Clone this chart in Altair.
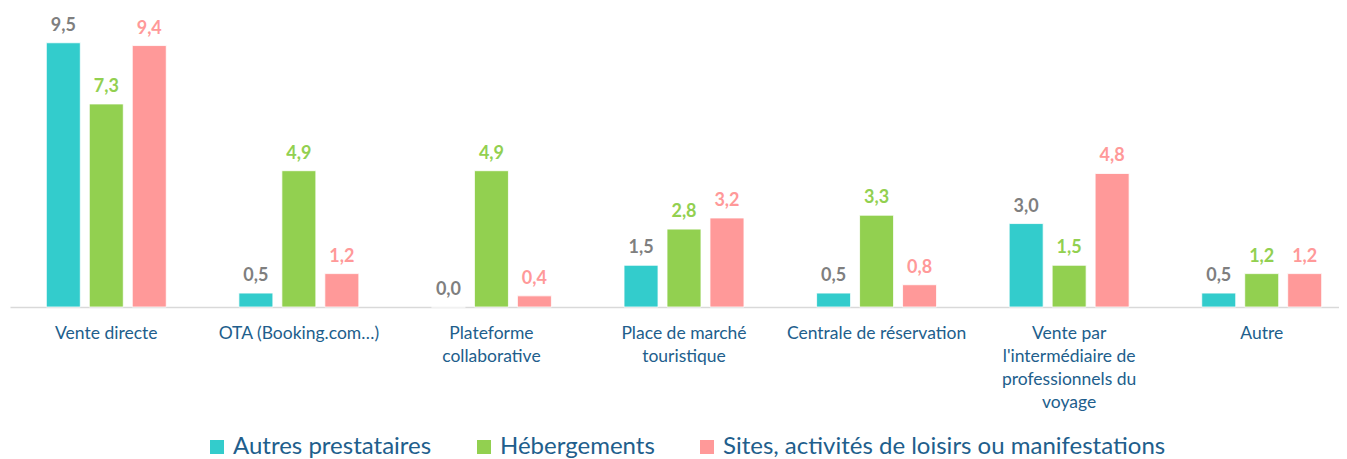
import altair as alt
import pandas as pd

categories = [
    "Vente directe",
    "OTA (Booking.com…)",
    "Plateforme|collaborative",
    "Place de marché|touristique",
    "Centrale de réservation",
    "Vente par|l'intermédiaire de|professionnels du|voyage",
    "Autre",
]
series = ["Autres prestataires", "Hébergements", "Sites, activités de loisirs ou manifestations"]
autres = [9.5, 0.5, 0.0, 1.5, 0.5, 3.0, 0.5]
hebergements = [7.3, 4.9, 4.9, 2.8, 3.3, 1.5, 1.2]
sites = [9.4, 1.2, 0.4, 3.2, 0.8, 4.8, 1.2]

bar_colors = ["#33CCCC", "#92D050", "#FF9999"]
label_colors = ["#7F7F7F", "#92D050", "#FF9999"]
text_blue = "#215E8C"

rows = []
for vals, s in zip([autres, hebergements, sites], series):
    for c, v in zip(categories, vals):
        rows.append({"cat": c, "serie": s, "val": v})
df = pd.DataFrame(rows)

x = alt.X(
    "cat:N",
    sort=categories,
    scale=alt.Scale(range=[2, 1350], paddingInner=0, paddingOuter=0),
    axis=alt.Axis(
        title=None,
        labelExpr="split(datum.label, '|')",
        labelAngle=0,
        labelFont="Lato",
        labelFontSize=17.5,
        labelColor=text_blue,
        labelLineHeight=23,
        labelPadding=17,
        ticks=False,
        domainColor="#D9D9D9",
        domainWidth=1.5,
        labelLimit=300,
    ),
)
xoff = alt.XOffset(
    "serie:N",
    sort=series,
    scale=alt.Scale(domain=series, paddingInner=0.209, paddingOuter=0.845),
)
y = alt.Y(
    "val:Q",
    scale=alt.Scale(domain=[0, 10.75], nice=False),
    axis=None,
)

base = alt.Chart(df)

bars = base.mark_bar(stroke="white", strokeWidth=0.8).encode(
    x=x,
    xOffset=xoff,
    y=y,
    color=alt.Color(
        "serie:N",
        sort=series,
        scale=alt.Scale(domain=series, range=bar_colors),
        legend=alt.Legend(
            title=None,
            orient="none",
            direction="horizontal",
            legendX=197,
            legendY=427,
            symbolType="square",
            symbolSize=196,
            symbolStrokeWidth=0,
            labelFont="Lato",
            labelFontSize=24,
            labelColor=text_blue,
            labelOffset=4,
            columnPadding=40,
            labelLimit=600,
        ),
    ),
)

labels = base.mark_text(
    font="Lato", fontSize=18, fontWeight="bold", baseline="alphabetic", dy=-12
).transform_calculate(
    lab="replace(format(datum.val, '.1f'), '.', ',')"
).encode(
    x=x,
    xOffset=xoff,
    y=y,
    text="lab:N",
    color=alt.Color(
        "serie:N",
        sort=series,
        scale=alt.Scale(domain=series, range=label_colors),
        legend=None,
    ),
)

chart = (
    alt.layer(bars, labels)
    .resolve_scale(color="independent")
    .properties(
        width=1331,
        height=299,
        background="white",
        autosize=alt.AutoSizeParams(type="none"),
        padding={"left": 0, "top": 0, "right": 0, "bottom": 151},
    )
    .configure_view(strokeWidth=0, stroke="transparent")
)

chart.save("out.html", embed_options={"renderer": "svg", "actions": False})
